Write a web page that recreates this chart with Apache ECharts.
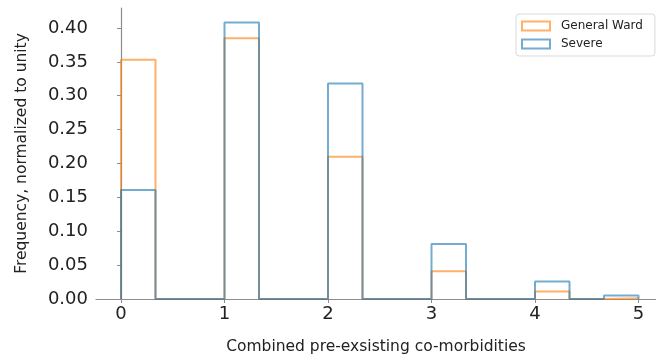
<!DOCTYPE html>
<html>
<head>
<meta charset="utf-8">
<script src="https://cdn.jsdelivr.net/npm/echarts@6/dist/echarts.min.js"></script>
<style>
html,body{margin:0;padding:0;background:#fff;}
#chart{width:656px;height:360px;}
</style>
</head>
<body>
<div id="chart"></div>
<script>
// Histogram bins: 15 bins of width 1/3 spanning 0..5
const binCount = 15;
const binLow = 0;
const binHigh = 5;
const seriesNames = ['General Ward', 'Severe'];
const generalWard = [0.353, 0, 0, 0.385, 0, 0, 0.210, 0, 0, 0.041, 0, 0, 0.011, 0, 0.001];
const severe      = [0.161, 0, 0, 0.408, 0, 0, 0.318, 0, 0, 0.081, 0, 0, 0.026, 0, 0.005];
const xTicks = [0, 1, 2, 3, 4, 5];
const yTickStep = 0.05;

function stepOutline(vals) {
  const w = (binHigh - binLow) / binCount;
  const pts = [[binLow, 0]];
  vals.forEach((v, i) => {
    pts.push([binLow + i * w, v]);
    pts.push([binLow + (i + 1) * w, v]);
  });
  pts.push([binHigh, 0]);
  return pts;
}

const orange = 'rgba(255,127,14,0.62)';
const blue = 'rgba(31,119,180,0.62)';
const font = 'DejaVu Sans';
const axisGray = '#8c8c8c';
const textColor = '#222222';

const chart = echarts.init(document.getElementById('chart'), null, {renderer: 'canvas'});
chart.setOption({
  animation: false,
  grid: {left: 96, right: 0, top: 8, bottom: 58, containLabel: false},
  xAxis: {
    type: 'value',
    min: -0.2415,
    max: 5.169,
    name: 'Combined pre-exsisting co-morbidities',
    nameLocation: 'middle',
    nameGap: 40,
    nameTextStyle: {fontFamily: font, fontSize: 15.5, color: textColor},
    axisLine: {show: true, onZero: false, lineStyle: {color: axisGray, width: 1.2}},
    axisTick: {show: true, customValues: xTicks, length: 4, lineStyle: {color: axisGray}},
    axisLabel: {show: true, customValues: xTicks, fontFamily: font, fontSize: 18, color: textColor, margin: 6},
    splitLine: {show: false}
  },
  yAxis: {
    type: 'value',
    min: 0,
    max: 0.4295,
    interval: yTickStep,
    name: 'Frequency, normalized to unity',
    nameLocation: 'middle',
    nameGap: 66,
    nameRotate: 90,
    nameTextStyle: {fontFamily: font, fontSize: 15.5, color: textColor},
    axisLine: {show: true, lineStyle: {color: axisGray, width: 1.2}},
    axisTick: {show: true, length: 4, lineStyle: {color: axisGray}},
    axisLabel: {show: true, fontFamily: font, fontSize: 18, color: textColor, margin: 8, showMaxLabel: false,
      formatter: v => v.toFixed(2)},
    splitLine: {show: false}
  },
  legend: {
    orient: 'vertical',
    left: 516,
    top: 14,
    padding: [6, 12, 6, 5],
    itemGap: 6,
    itemWidth: 28,
    itemHeight: 9,
    backgroundColor: '#fff',
    borderColor: '#d9d9d9',
    borderWidth: 1,
    borderRadius: 3,
    textStyle: {fontFamily: font, fontSize: 12, color: textColor, padding: [0, 0, 0, 6]},
    data: [
      {name: seriesNames[0], icon: 'rect', itemStyle: {color: 'rgba(0,0,0,0)', borderColor: orange, borderWidth: 2}},
      {name: seriesNames[1], icon: 'rect', itemStyle: {color: 'rgba(0,0,0,0)', borderColor: blue, borderWidth: 2}}
    ]
  },
  series: [
    {
      name: seriesNames[0], type: 'line', data: stepOutline(generalWard),
      showSymbol: false, symbol: 'none', clip: false,
      lineStyle: {color: orange, width: 2}, itemStyle: {color: orange}
    },
    {
      name: seriesNames[1], type: 'line', data: stepOutline(severe),
      showSymbol: false, symbol: 'none', clip: false,
      lineStyle: {color: blue, width: 2}, itemStyle: {color: blue}
    }
  ]
});
</script>
</body>
</html>
